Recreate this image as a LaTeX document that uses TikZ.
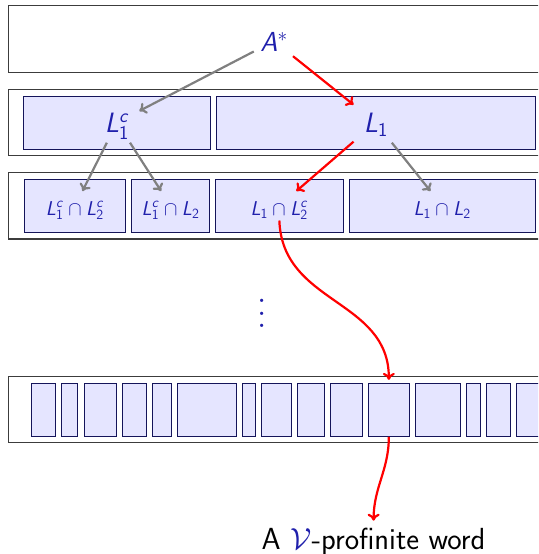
\RequirePackage{fix-cm}
\documentclass[tikz,border=0pt]{standalone}
\usepackage{graphicx}
\usetikzlibrary{arrows.meta}
\DeclareMathAlphabet{\mathsfsl}{OT1}{cmss}{m}{sl}
\definecolor{txtblue}{RGB}{32,32,172}
\definecolor{cellfill}{RGB}{229,229,255}
\definecolor{celldraw}{RGB}{20,20,90}
\definecolor{outerdraw}{RGB}{60,60,60}
\tikzset{
  outerbox/.style={draw=outerdraw, line width=1.2pt, fill=white, inner sep=0pt,
    minimum height=66.5pt, minimum width=551.4pt},
  cell/.style={draw=celldraw, line width=0.9pt, fill=cellfill, inner sep=0pt,
    minimum height=53pt},
  lbl/.style={inner sep=0pt, text=txtblue},
  bigl/.style={lbl, font=\sffamily\fontsize{28}{32}\selectfont,
    minimum width=44pt, minimum height=40pt, text height=22.5pt, text depth=2.5pt},
  smalll/.style={lbl, font=\sffamily\fontsize{20}{24}\selectfont,
    minimum height=29pt, text height=19.4pt, text depth=1pt},
  arr/.style={line width=2.2pt, -{To[length=7pt,width=12pt]}},
  garrow/.style={arr, draw=gray},
  rarrow/.style={arr, draw=red},
}
\newcommand{\Lsf}{\mathsfsl{L}}
\begin{document}
\begin{tikzpicture}[x=1pt, y=-1pt]
\clip (0,0) rectangle (538,554);
% outer rows
\node[outerbox] (row1) at (284.3,39) {};
\node[outerbox] (row2) at (284.3,122.5) {};
\node[outerbox] (row3) at (284.3,205.8) {};
\node[outerbox] (row4) at (284.3,409.5) {};
% row 2 cells
\node[cell, minimum width=186.7pt] (c2a) at (117.05,122.5) {};
\node[cell, minimum width=318.5pt] (c2b) at (375.75,122.5) {};
% row 3 cells
\node[cell, minimum width=101.2pt] (c3a) at (75,205.8) {};
\node[cell, minimum width=77.5pt] (c3b) at (170.55,205.8) {};
\node[cell, minimum width=127.7pt] (c3c) at (279.35,205.8) {};
\node[cell, minimum width=186.3pt] (c3d) at (442.15,205.8) {};
% row 4 cells
\foreach \l/\r [count=\i] in {31.2/55.6, 61.4/77.9, 84.1/116, 122.2/146.9,
  152.4/171.6, 177.4/236.4, 242.3/255.7, 261.8/291.7, 297.5/324.6,
  330.5/362.7, 368.6/409.1, 415.2/460.9, 466.7/480.4, 486.3/510.6, 516.5/560}
  \node[cell, minimum width={(\r-\l)*1pt}] (w\i) at ({(\l+\r)/2},409.8) {};
% labels
\node[lbl, font=\sffamily\fontsize{27.5}{31}\selectfont, minimum width=40pt,
  minimum height=30pt, text height=22pt, text depth=0.6pt] (nA) at (274,41) {$\mathsfsl{A}^{*}$};
\node[bigl] (nL1c) at (117.05,122.5) {$\Lsf_{\mathsf{1}}^{\mathsfsl{c}}$};
\node[bigl] (nL1) at (375.75,122.5) {$\Lsf_{\mathsf{1}}$};
\node[smalll] (t3a) at (75,205.8) {$\Lsf_{\mathsf{1}}^{\mathsfsl{c}}\cap \Lsf_{\mathsf{2}}^{\mathsfsl{c}}$};
\node[smalll] (t3b) at (170.55,205.8) {$\Lsf_{\mathsf{1}}^{\mathsfsl{c}}\cap \Lsf_{\mathsf{2}}$};
\node[smalll] (t3c) at (279.35,205.8) {$\Lsf_{\mathsf{1}}\cap \Lsf_{\mathsf{2}}^{\mathsfsl{c}}$};
\node[smalll] (t3d) at (442.15,205.8) {$\Lsf_{\mathsf{1}}\cap \Lsf_{\mathsf{2}}$};
\node[lbl, anchor=south] (dots) at (261.7,328) {\scalebox{3.15}{$\vdots$}};
\node[font=\sffamily\fontsize{30.5}{35}\selectfont, anchor=base, inner sep=7pt] (word)
  at (373.6,549.3) {A \textcolor{txtblue}{$\mathcal{V}$}-profinite word};
% connectors
\draw[garrow] (nA) -- (nL1c);
\draw[rarrow] (nA) -- (nL1);
\draw[garrow] (nL1c) -- (t3a);
\draw[garrow] (nL1c) -- (t3b);
\draw[rarrow] (nL1) -- (t3c);
\draw[garrow] (nL1) -- (t3d);
\draw[rarrow, shorten >=3pt] (t3c.south) to[out=-88, in=90, looseness=1.1] (w11.north);
\draw[rarrow] (w11.south) to[out=-90, in=90] (word.north);
\end{tikzpicture}
\end{document}
